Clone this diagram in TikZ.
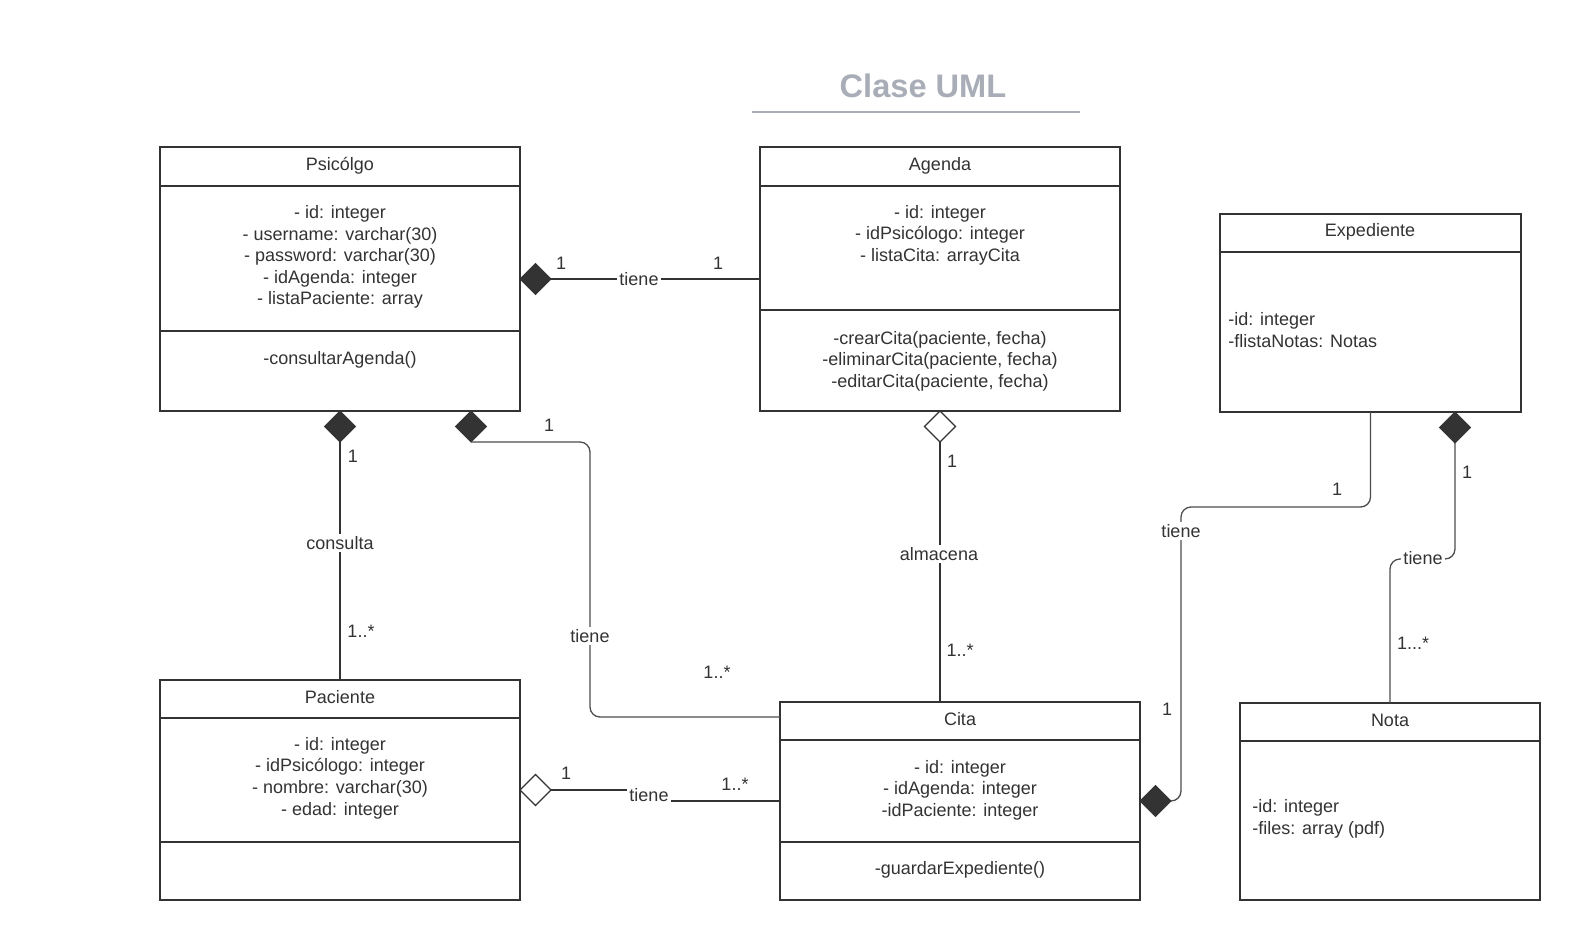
\documentclass[tikz,border=0pt]{standalone}
\usepackage{fontspec}
\setmainfont{Liberation Sans}
\usetikzlibrary{fit,shapes.geometric}
\definecolor{ink}{HTML}{333333}
\definecolor{wire}{HTML}{4D4D4D}
\definecolor{titlegray}{HTML}{A8ADB7}
\begin{document}
\begin{tikzpicture}[x=0.5pt,y=-0.5pt,
  every node/.style={font=\fontsize{9.0pt}{10.8pt}\selectfont, text=ink},
  classbox/.style={draw=ink, line width=1pt, inner sep=0pt, outer sep=0pt},
  sep/.style={draw=ink, line width=1pt},
  txt/.style={align=center, inner sep=0pt},
  ltxt/.style={align=left, inner sep=0pt, anchor=west},
  lbl/.style={fill=white, inner sep=1pt},
  mult/.style={inner sep=0pt},
  compo/.style={diamond, fill=ink, draw=ink, line width=0.5pt, minimum width=15.5pt,
    minimum height=15.5pt, inner sep=0pt, outer sep=0pt},
  aggr/.style={diamond, fill=white, draw=ink, line width=0.6pt, minimum width=15.5pt,
    minimum height=15.5pt, inner sep=0pt, outer sep=0pt},
  link/.style={draw=ink, line width=1pt},
  thinlink/.style={draw=ink, line width=0.75pt},
  route/.style={draw=wire, line width=0.65pt, rounded corners=5pt},
]
\fill[white] (0,0) rectangle (1580,941);
\useasboundingbox (0,0) rectangle (1580,941);

% title
\node[font=\fontsize{16.3pt}{19pt}\selectfont\bfseries, text=titlegray] (title) at (923,86) {Clase UML};
\draw[titlegray, line width=1pt] (752,112) -- (1080,112);

% Psicólogo
\node[classbox, fit={(160,147) (520,411)}] (psi) {};
\draw[sep] (160,186) -- (520,186) (160,331) -- (520,331);
\node[txt] (psiT) at (340,166) {Psicólgo};
\node[txt] (psiA) at (340,257) {- id: integer\\- username: varchar(30)\\- password: varchar(30)\\- idAgenda: integer\\- listaPaciente: array};
\node[txt] (psiM) at (340,360) {-consultarAgenda()};

% Agenda
\node[classbox, fit={(760,147) (1120,411)}] (age) {};
\draw[sep] (760,186) -- (1120,186) (760,310) -- (1120,310);
\node[txt] (ageT) at (940,166) {Agenda};
\node[txt] (ageA) at (940,235) {- id: integer\\- idPsicólogo: integer\\- listaCita: arrayCita};
\node[txt] (ageM) at (940,361) {-crearCita(paciente, fecha)\\-eliminarCita(paciente, fecha)\\-editarCita(paciente, fecha)};

% Expediente
\node[classbox, fit={(1220,214) (1521,412)}] (exp) {};
\draw[sep] (1220,252) -- (1521,252);
\node[txt] (expT) at (1370,232) {Expediente};
\node[ltxt] (expA) at (1228,330) {-id: integer\\-flistaNotas: Notas};

% Paciente
\node[classbox, fit={(160,680) (520,900)}] (pac) {};
\draw[sep] (160,718) -- (520,718) (160,842) -- (520,842);
\node[txt] (pacT) at (340,697) {Paciente};
\node[txt] (pacA) at (340,778) {- id: integer\\- idPsicólogo: integer\\- nombre: varchar(30)\\- edad: integer};

% Cita
\node[classbox, fit={(780,702) (1140,900)}] (cita) {};
\draw[sep] (780,740) -- (1140,740) (780,842) -- (1140,842);
\node[txt] (citaT) at (960,719) {Cita};
\node[txt] (citaA) at (960,790) {- id: integer\\- idAgenda: integer\\-idPaciente: integer};
\node[txt] (citaM) at (960,870) {-guardarExpediente()};

% Nota
\node[classbox, fit={(1240,703) (1540,900)}] (nota) {};
\draw[sep] (1240,741) -- (1540,741);
\node[txt] (notaT) at (1390,720) {Nota};
\node[ltxt] (notaA) at (1252,819) {-id: integer\\-files: array (pdf)};

% association ends
\node[compo, anchor=west] (d1) at (psi.east) {};
\node[compo, anchor=north] (d2) at (psi.south) {};
\node[compo, anchor=north] (d3) at (471,411) {};
\node[aggr, anchor=north] (d4) at (age.south) {};
\node[aggr, anchor=west] (d5) at (pac.east) {};
\node[compo, anchor=west] (d6) at (cita.east) {};
\node[compo, anchor=north] (d7) at (1455,412) {};

% bend points
\coordinate (b3a) at (590,442);
\coordinate (b3b) at (590,717);
\coordinate (b3c) at (780,717);
\coordinate (b5a) at (649,790);
\coordinate (b5b) at (649,801);
\coordinate (b6a) at (1181,801);
\coordinate (b6b) at (1181,507);
\coordinate (b6c) at (1370.5,507);
\coordinate (b7a) at (1455,559);
\coordinate (b7b) at (1390,559);

% connectors
\draw[link] (d1.east) -- (age.west);
\draw[link] (d2.south) -- (pac.north);
\draw[route] (d3.south) -- (b3a) -- (b3b) -- (b3c);
\draw[link] (d4.south) -- (d4.south |- cita.north);
\draw[thinlink] (d5.east) -- (b5a) -- (b5b) -- (cita.west);
\draw[route] (d6.east) -- (b6a) -- (b6b) -- (b6c) -- (exp.south);
\draw[route] (d7.south) -- (b7a) -- (b7b) -- (nota.north);

% labels
\node[mult] (m1a) at (561,263) {1};
\node[lbl] (l1) at (639,279) {tiene};
\node[mult] (m1b) at (718,263) {1};

\node[mult] (m2a) at (353,456) {1};
\node[lbl] (l2) at (340,543) {consulta};
\node[mult] (m2b) at (361,631) {1..*};

\node[mult] (m3a) at (549,425) {1};
\node[lbl] (l3) at (590,636) {tiene};
\node[mult] (m3b) at (717,672) {1..*};

\node[mult] (m4a) at (952,461) {1};
\node[lbl] (l4) at (939,554) {almacena};
\node[mult] (m4b) at (960,650) {1..*};

\node[mult] (m5a) at (566,773) {1};
\node[lbl] (l5) at (649,795) {tiene};
\node[mult] (m5b) at (735,784) {1..*};

\node[mult] (m6a) at (1337,489) {1};
\node[lbl] (l6) at (1181,531) {tiene};
\node[mult] (m6b) at (1167,709) {1};

\node[mult] (m7a) at (1467,472) {1};
\node[lbl] (l7) at (1423,558) {tiene};
\node[mult] (m7b) at (1413,643) {1...*};
\end{tikzpicture}
\end{document}
